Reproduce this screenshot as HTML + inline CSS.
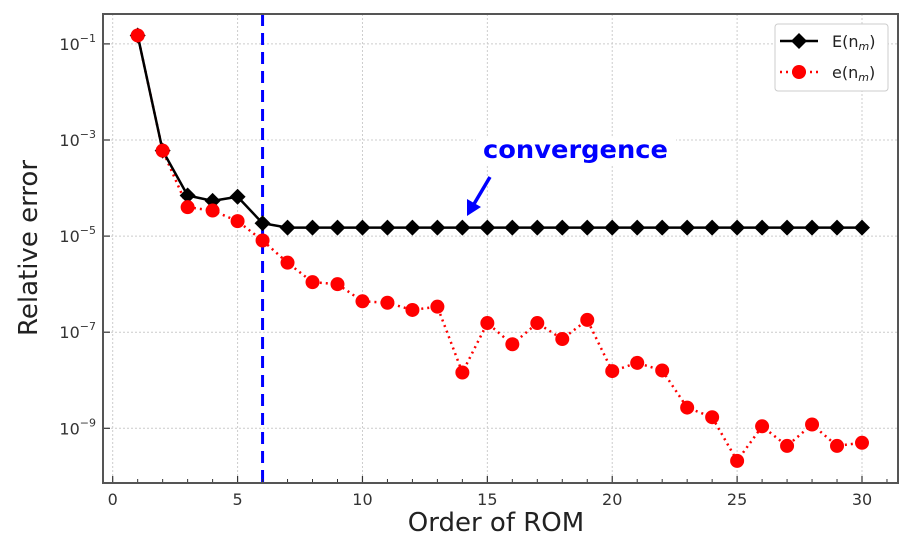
<!DOCTYPE html>
<html><head><meta charset="utf-8"><style>
html,body{margin:0;padding:0;background:#fff;}
svg{display:block;}
text{font-family:"DejaVu Sans","Liberation Sans",sans-serif;}
</style></head><body>
<svg id="chart" width="912" height="543" viewBox="0 0 912 543" xmlns="http://www.w3.org/2000/svg">
<g id="grid"></g>
<g id="vline"></g>
<g id="series"></g>
<g id="axes"></g>
<g>
<rect x="476" y="136" width="200" height="28" fill="#fff"/>
<text x="483" y="158" font-size="25" font-weight="bold" fill="#0000ff" textLength="185" lengthAdjust="spacingAndGlyphs">convergence</text>
<line x1="490" y1="177" x2="474" y2="204" stroke="#0000ff" stroke-width="3.5"/>
<polygon points="467,216 467,199 481,207" fill="#0000ff"/>
</g>
<g>
<rect x="775" y="24" width="113" height="67" rx="3" fill="#fff" stroke="#ccc" stroke-width="1"/>
<line x1="780" y1="41" x2="818" y2="41" stroke="#000" stroke-width="2.5"/>
<polygon points="799,33 807,41 799,49 791,41" fill="#000"/>
<text x="832" y="47" font-size="16" fill="#222">E(n<tspan font-size="11" dy="3" font-style="italic">m</tspan><tspan dy="-3">)</tspan></text>
<line x1="780" y1="72" x2="818" y2="72" stroke="#ff0000" stroke-width="2.5" stroke-dasharray="2,4"/>
<circle cx="799" cy="72" r="7" fill="#ff0000"/>
<text x="832" y="78" font-size="16" fill="#222">e(n<tspan font-size="11" dy="3" font-style="italic">m</tspan><tspan dy="-3">)</tspan></text>
</g>
<text x="496" y="531" text-anchor="middle" font-size="26" fill="#222">Order of ROM</text>
<text transform="translate(37,248) rotate(-90)" text-anchor="middle" font-size="26" fill="#222">Relative error</text>
</svg>
<script>
const orders=[1,2,3,4,5,6,7,8,9,10,11,12,13,14,15,16,17,18,19,20,21,22,23,24,25,26,27,28,29,30];
const bigE=[0.15,6e-4,7e-5,5.4e-5,6.6e-5,1.85e-5,1.5e-5,1.5e-5,1.5e-5,1.5e-5,1.5e-5,1.5e-5,1.5e-5,1.5e-5,1.5e-5,1.5e-5,1.5e-5,1.5e-5,1.5e-5,1.5e-5,1.5e-5,1.5e-5,1.5e-5,1.5e-5,1.5e-5,1.5e-5,1.5e-5,1.5e-5,1.5e-5,1.5e-5];
const smallE=[0.15,6e-4,4e-5,3.4e-5,2.05e-5,8.1e-6,2.8e-6,1.1e-6,1e-6,4.4e-7,4.1e-7,2.9e-7,3.4e-7,1.45e-8,1.55e-7,5.6e-8,1.55e-7,7.2e-8,1.8e-7,1.55e-8,2.3e-8,1.6e-8,2.7e-9,1.7e-9,2.1e-10,1.1e-9,4.3e-10,1.2e-9,4.3e-10,5e-10];
const xTicks=[0,5,10,15,20,25,30];
const yTickExps=[-1,-3,-5,-7,-9];
const convergenceOrder=6;

const NS="http://www.w3.org/2000/svg";
const L=103,R=898,T=14,B=483;
const xs=v=>112.7+v*(862-112.7)/30;
const ys=v=>43.9+(-1-Math.log10(v))*48.05;
function mk(tag,attrs,parent){const e=document.createElementNS(NS,tag);for(const k in attrs)e.setAttribute(k,attrs[k]);parent.appendChild(e);return e;}
const grid=document.getElementById('grid'),axes=document.getElementById('axes'),series=document.getElementById('series'),vl=document.getElementById('vline');
xTicks.forEach(t=>{
  const g=mk('line',{x1:xs(t),x2:xs(t),y1:T,y2:B,stroke:'#ccc','stroke-width':1,'stroke-dasharray':'2,2'},grid);
  
  
  const tk=mk('line',{x1:xs(t),x2:xs(t),y1:B,y2:B-7,stroke:'#333','stroke-width':1.2},axes);
  
  
  const lb=mk('text',{x:xs(t),y:B+22,'text-anchor':'middle','font-size':16,fill:'#333'},axes);
  lb.textContent=t;
  
  
});
for(let t=1;t<=31;t++){if(t%5===0)continue;
  const m=mk('line',{x1:xs(t),x2:xs(t),y1:B,y2:B-4,stroke:'#333','stroke-width':1},axes);
  
  
}
yTickExps.forEach(e=>{
  const y=ys(Math.pow(10,e));
  const g=mk('line',{x1:L,x2:R,y1:y,y2:y,stroke:'#ccc','stroke-width':1,'stroke-dasharray':'2,2'},grid);
  
  
  const tk=mk('line',{x1:L,x2:L+7,y1:y,y2:y,stroke:'#333','stroke-width':1.2},axes);
  
  
  const lb=mk('text',{x:96,y:y+6,'text-anchor':'end','font-size':16,fill:'#333'},axes);
  
  
  lb.innerHTML='10<tspan font-size="11" dy="-8">−'+(-e)+'</tspan>';
});
const fr=mk('rect',{x:L,y:T,width:R-L,height:B-T,fill:'none',stroke:'#555','stroke-width':2},axes);


const v=mk('line',{x1:xs(convergenceOrder),x2:xs(convergenceOrder),y1:T,y2:B,stroke:'#0000ff','stroke-width':3,'stroke-dasharray':'12,7'},vl);


const pe=mk('polyline',{points:orders.map((o,i)=>xs(o)+','+ys(smallE[i])).join(' '),fill:'none',stroke:'#ff0000','stroke-width':2.5,'stroke-dasharray':'2,4'},series);


const pE=mk('polyline',{points:orders.map((o,i)=>xs(o)+','+ys(bigE[i])).join(' '),fill:'none',stroke:'#000','stroke-width':2.5},series);


orders.forEach((o,i)=>{
  const x=xs(o),y=ys(bigE[i]);
  const d=mk('polygon',{points:`${x},${y-8} ${x+8},${y} ${x},${y+8} ${x-8},${y}`,fill:'#000'},series);
  
  
});
orders.forEach((o,i)=>{
  const c=mk('circle',{cx:xs(o),cy:ys(smallE[i]),r:7,fill:'#ff0000'},series);
  
  
});
</script>
</body></html>
